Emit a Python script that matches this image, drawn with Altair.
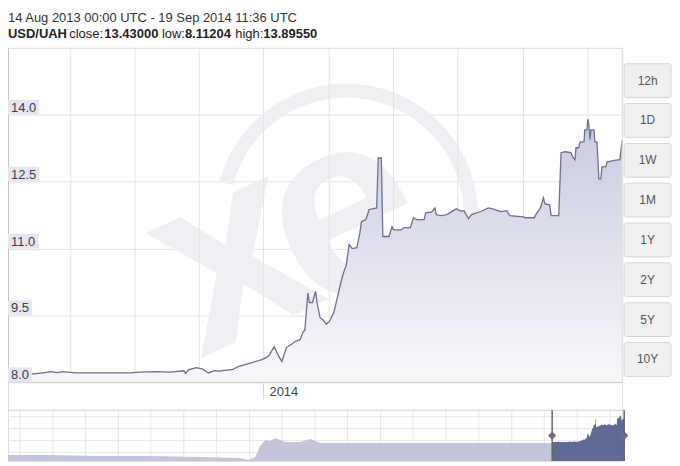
import altair as alt
import pandas as pd

# ---------------- data ----------------
dates = [
    "2013-08-14", "2013-08-22", "2013-08-31", "2013-09-07", "2013-09-11", "2013-09-15",
    "2013-09-19", "2013-09-27", "2013-10-13", "2013-11-02", "2013-11-08", "2013-11-19",
    "2013-11-28", "2013-12-07", "2013-12-08", "2013-12-10", "2013-12-15", "2013-12-19",
    "2013-12-23", "2013-12-27", "2013-12-30", "2014-01-08", "2014-01-12", "2014-01-21",
    "2014-01-27", "2014-01-30", "2014-02-01", "2014-02-04", "2014-02-07", "2014-02-09",
    "2014-02-12", "2014-02-15", "2014-02-18", "2014-02-21", "2014-02-23", "2014-02-24",
    "2014-02-26", "2014-02-27", "2014-03-01", "2014-03-03", "2014-03-04", "2014-03-06",
    "2014-03-08", "2014-03-10", "2014-03-12", "2014-03-15", "2014-03-17", "2014-03-20",
    "2014-03-22", "2014-03-23", "2014-03-25", "2014-03-27", "2014-03-30", "2014-04-01",
    "2014-04-02", "2014-04-05", "2014-04-07", "2014-04-12", "2014-04-13", "2014-04-15",
    "2014-04-16", "2014-04-20", "2014-04-22", "2014-04-23", "2014-04-28", "2014-04-30",
    "2014-05-04", "2014-05-06", "2014-05-08", "2014-05-13", "2014-05-14", "2014-05-18",
    "2014-05-20", "2014-05-21", "2014-05-24", "2014-05-28", "2014-06-01", "2014-06-03",
    "2014-06-06", "2014-06-08", "2014-06-11", "2014-06-13", "2014-06-19", "2014-06-24",
    "2014-06-27", "2014-07-02", "2014-07-06", "2014-07-08", "2014-07-17", "2014-07-18",
    "2014-07-24", "2014-07-25", "2014-07-28", "2014-07-30", "2014-07-31", "2014-08-03",
    "2014-08-04", "2014-08-09", "2014-08-10T12:00Z", "2014-08-13", "2014-08-17",
    "2014-08-18", "2014-08-19T14:00Z", "2014-08-20T07:00Z", "2014-08-22",
    "2014-08-22T22:00Z", "2014-08-25T12:00Z", "2014-08-26", "2014-08-27T10:00Z",
    "2014-08-28", "2014-08-28T17:00Z", "2014-08-29T10:00Z", "2014-08-30", "2014-09-01",
    "2014-09-01T14:00Z", "2014-09-02T22:00Z", "2014-09-03T12:00Z", "2014-09-04T05:00Z",
    "2014-09-05T12:00Z", "2014-09-06T05:00Z", "2014-09-08T19:00Z", "2014-09-09T12:00Z",
    "2014-09-13T10:00Z", "2014-09-16T14:00Z", "2014-09-17T22:00Z", "2014-09-18T12:00Z",
    "2014-09-19T11:36Z",
]
rates = [
    8.20, 8.19, 8.19, 8.22, 8.24, 8.22,
    8.24, 8.21, 8.21, 8.21, 8.23, 8.24,
    8.23, 8.26, 8.20, 8.28, 8.33, 8.30,
    8.21, 8.26, 8.25, 8.29, 8.36, 8.45,
    8.51, 8.56, 8.62, 8.80, 8.58, 8.47,
    8.78, 8.85, 8.92, 8.96, 9.14, 9.16,
    10.00, 9.79, 9.79, 10.04, 9.79, 9.45,
    9.40, 9.30, 9.36, 9.57, 9.86, 10.30,
    10.53, 10.60, 11.09, 11.00, 11.02, 11.35,
    11.60, 11.65, 11.87, 11.91, 13.03, 13.03,
    11.27, 11.27, 11.49, 11.42, 11.42, 11.47,
    11.47, 11.69, 11.65, 11.65, 11.80, 11.82,
    11.91, 11.76, 11.74, 11.76, 11.85, 11.89,
    11.84, 11.85, 11.67, 11.76, 11.83, 11.91,
    11.89, 11.83, 11.85, 11.74, 11.71, 11.69,
    11.69, 11.76, 11.91, 12.14, 12.00, 11.98,
    11.74, 11.74, 13.15, 13.17, 13.15,
    13.06, 12.99, 13.26, 13.26,
    13.39, 13.39, 13.66, 13.66,
    13.90, 13.77, 13.44, 13.66, 13.66,
    13.39, 13.39, 13.06, 12.56,
    12.56, 12.83, 12.83, 12.94,
    12.97, 12.99, 12.99, 13.15,
    13.43,
]

y_ticks = [8.0, 9.5, 11.0, 12.5, 14.0]
y_labels = ["8.0", "9.5", "11.0", "12.5", "14.0"]
grid_dates = ["2013-09-24", "2013-11-05", "2013-12-17", "2014-01-28", "2014-03-12",
              "2014-04-23", "2014-06-04", "2014-07-17", "2014-08-28"]
year_tick = ["2014-01-28"]
year_label = ["2014"]
buttons = ["12h", "1D", "1W", "1M", "1Y", "2Y", "5Y", "10Y"]

range_start = "2013-08-14"
range_end = "2014-09-19T11:36Z"

# navigator (long history) – rough reading of the mini chart
nav_dates = ["2005-04-26", "2005-12-16", "2006-09-21", "2007-06-27", "2008-04-01",
             "2008-11-10", "2008-12-24", "2009-02-02", "2009-03-01", "2009-03-29",
             "2009-04-26", "2009-05-24", "2009-07-19", "2009-10-11", "2009-12-05",
             "2010-01-30", "2012-01-01", "2013-08-13"]
nav_rates = [5.50, 5.50, 5.29, 5.29, 5.08,
             4.87, 4.46, 5.08, 7.37, 8.62,
             8.41, 9.03, 8.20, 8.20, 8.82,
             8.00, 8.00, 8.00]
nav_grid_dates = ["2005-07-01", "2006-01-01", "2006-07-01", "2007-01-01", "2007-07-01",
                  "2008-01-01", "2008-07-01", "2009-01-01", "2009-07-01", "2010-01-01",
                  "2010-07-01", "2011-01-01", "2011-07-01", "2012-01-01", "2012-07-01",
                  "2013-01-01", "2013-07-01", "2014-01-01", "2014-07-01"]
nav_grid_values = [6.0, 8.5, 11.0, 13.5]

title_line1 = "14 Aug 2013 00:00 UTC - 19 Sep 2014 11:36 UTC"
title_parts = [("USD/UAH", "bold"), ("close:", "normal"), ("13.43000", "bold"),
               ("low:", "normal"), ("8.11204", "bold"), ("high:", "normal"),
               ("13.89550", "bold")]


def ms(s):
    t = pd.Timestamp(s)
    if t.tzinfo is None:
        t = t.tz_localize("UTC")
    return int(t.timestamp() * 1000)


FONT = "Liberation Sans"
W = 617          # main plot width
H = 336          # main plot height
NAV_TOP, NAV_BOT = 364, 415   # navigator band (inside the same canvas)
NAV_W = 619
TOTAL_H = NAV_BOT

main_df = pd.DataFrame({"date": dates, "rate": rates})
main_df["base"] = 8.0
lab_df = pd.DataFrame({"v": y_ticks, "label": y_labels})
lab_df["vt"] = lab_df["v"] + 0.335
lab_df["wide"] = lab_df["label"].str.len() > 3
one = pd.DataFrame({"k": [0]})
btn_df = pd.DataFrame({"btn": buttons})
grid_df = pd.DataFrame({"date": grid_dates})
year_df = pd.DataFrame({"date": year_tick, "label": year_label})

x_scale = alt.Scale(type="utc", domain=[ms(range_start), ms(range_end)], range=[0, W])
y_scale = alt.Scale(domain=[8.0, 15.5], zero=False, nice=False, range=[H, 0])
y_axis = alt.Axis(values=y_ticks, labels=False, ticks=False, grid=True,
                  gridColor="#e4e4e4", domainColor="#c4c4c4", title=None)


def X(field="date:T"):
    return alt.X(field, scale=x_scale, axis=None)


def Y(field):
    return alt.Y(field, scale=y_scale, axis=y_axis)


# watermark (xe logo)
ring = alt.Chart(one).mark_arc(
    theta=4.97, theta2=8.2, innerRadius=118, outerRadius=132, color="#f0f0f4"
).encode(x=alt.value(340), y=alt.value(168))
wm_e = alt.Chart(one).mark_text(
    text="e", font=FONT, fontWeight="bold", fontSize=260, angle=335,
    color="#f0f0f4", align="center", baseline="alphabetic"
).encode(x=alt.value(370), y=alt.value(239))
wm_x = alt.Chart(one).mark_text(
    text="x", font=FONT, fontWeight="bold", fontSize=260, angle=335,
    color="#f0f0f4", align="center", baseline="alphabetic"
).encode(x=alt.value(258), y=alt.value(282))

vgrid = alt.Chart(grid_df).mark_rule(color="#e4e4e4").encode(
    x=X(), y=alt.value(0), y2=alt.value(H))

area = alt.Chart(main_df).mark_area(
    color=alt.Gradient(
        gradient="linear",
        stops=[alt.GradientStop(color="#c8cadf", offset=0),
               alt.GradientStop(color="#f8f8fb", offset=1)],
        x1=0, x2=0, y1=0, y2=1,
    )
).encode(x=X(), y=Y("rate:Q"), y2="base")
line = alt.Chart(main_df).mark_line(color="#6d7090", strokeWidth=1.3).encode(
    x=X(), y=Y("rate:Q"))

bottom_line = alt.Chart(one).mark_rule(color="#c8c8c8").encode(
    x=alt.value(0), x2=alt.value(W), y=alt.value(H))
right_border = alt.Chart(one).mark_rule(color="#e2e2e2").encode(
    x=alt.value(W), y=alt.value(0), y2=alt.value(H))
year_tick_rule = alt.Chart(year_df).mark_rule(color="#d8d8d8").encode(
    x=X(), y=alt.value(H), y2=alt.value(H + 17))
year_text = alt.Chart(year_df).mark_text(
    align="left", baseline="alphabetic", dx=6, font=FONT, fontSize=13, color="#444"
).encode(x=X(), y=alt.value(H + 14), text="label:N")

lab_box_wide = alt.Chart(lab_df).transform_filter("datum.wide").mark_rect(
    color="#e6e6f0").encode(x=alt.value(0), x2=alt.value(31), y=Y("v:Q"), y2="vt")
lab_box_narrow = alt.Chart(lab_df).transform_filter("!datum.wide").mark_rect(
    color="#e6e6f0").encode(x=alt.value(0), x2=alt.value(24), y=Y("v:Q"), y2="vt")
lab_text = alt.Chart(lab_df).mark_text(
    align="left", baseline="alphabetic", dy=-3, font=FONT, fontSize=13, color="#3a3a50"
).encode(x=alt.value(3), y=Y("v:Q"), text="label:N")

title1 = alt.Chart(one).mark_text(
    text=title_line1, align="left", baseline="alphabetic", font=FONT, fontSize=13,
    color="#333").encode(x=alt.value(0), y=alt.value(-26))

# positions of the pieces of the second title line (Liberation Sans metrics, 13px)
part_x = [0, 61.5, 96.8, 154.6, 177.7, 228.3, 256.5]
title2 = [
    alt.Chart(one).mark_text(text=t, align="left", baseline="alphabetic", font=FONT,
                             fontSize=13, fontWeight=w, color="#222")
    .encode(x=alt.value(px), y=alt.value(-9.5))
    for (t, w), px in zip(title_parts, part_x)
]

main = alt.layer(ring, wm_e, wm_x, vgrid, area, line, bottom_line, right_border,
                 year_tick_rule, year_text, lab_box_wide, lab_box_narrow, lab_text,
                 title1, *title2)

# ---------------- range buttons ----------------
btn_scale = alt.Scale(range=[13, 333], paddingInner=0.15, paddingOuter=0.075)
btn_rect = alt.Chart(btn_df).mark_rect(
    fill="#f0f0f0", stroke="#d6d6d6", strokeWidth=1, cornerRadius=2
).encode(y=alt.Y("btn:N", sort=buttons, scale=btn_scale, axis=None),
         x=alt.value(619), x2=alt.value(666))
btn_text = alt.Chart(btn_df).mark_text(
    font=FONT, fontSize=12, color="#555", baseline="middle", align="center"
).encode(y=alt.Y("btn:N", sort=buttons, scale=btn_scale, axis=None, bandPosition=0.5),
         x=alt.value(642.5), text="btn:N")
btns = alt.layer(btn_rect, btn_text)

# ---------------- navigator ----------------
nav_df = pd.DataFrame({"date": nav_dates + dates, "rate": nav_rates + rates})
nav_df["sel"] = [ms(d) >= ms(range_start) for d in nav_df["date"]]
nav_df["base"] = 4.25
nav_x = alt.Scale(type="utc", domain=[ms(nav_dates[0]), ms(range_end)], range=[0, NAV_W])
nav_y = alt.Scale(domain=[4.25, 14.85], zero=False, nice=False, range=[NAV_BOT, NAV_TOP])


def NX(field="date:T"):
    return alt.X(field, scale=nav_x, axis=None)


def NY(field):
    return alt.Y(field, scale=nav_y, axis=None)


nav_vgrid = alt.Chart(pd.DataFrame({"date": nav_grid_dates})).mark_rule(
    color="#e8e8e8").encode(x=NX(), y=alt.value(NAV_TOP), y2=alt.value(NAV_BOT))
nav_hgrid = alt.Chart(pd.DataFrame({"v": nav_grid_values})).mark_rule(
    color="#e8e8e8").encode(y=NY("v:Q"), x=alt.value(0), x2=alt.value(NAV_W))
nav_light = alt.Chart(nav_df).mark_area(color="#c3c5d8").encode(
    x=NX(), y=NY("rate:Q"), y2="base")
nav_dark = alt.Chart(nav_df).transform_filter("datum.sel").mark_area(
    color="#616a94").encode(x=NX(), y=NY("rate:Q"), y2="base")
sel_df = pd.DataFrame({"date": [range_start, range_end]})
nav_sel = alt.Chart(sel_df).mark_rule(color="#666", strokeWidth=1.5).encode(
    x=NX(), y=alt.value(NAV_TOP), y2=alt.value(NAV_BOT))
nav_handle = alt.Chart(sel_df).mark_point(
    shape="diamond", filled=True, size=70, color="#6b6f86", opacity=1).encode(
    x=NX(), y=alt.value((NAV_TOP + NAV_BOT) / 2))
nav_top = alt.Chart(one).mark_rule(color="#d0d0d0").encode(
    x=alt.value(0), x2=alt.value(NAV_W), y=alt.value(NAV_TOP))

nav = alt.layer(nav_vgrid, nav_hgrid, nav_light, nav_dark, nav_top, nav_sel, nav_handle)

chart = alt.layer(main, btns, nav).resolve_scale(
    x="independent", y="independent"
).properties(
    width=W, height=TOTAL_H,
    autosize=alt.AutoSizeParams(type="none"),
    padding={"left": 0, "top": 39, "right": 50, "bottom": 0},
).configure_view(stroke=None).configure(font=FONT)

chart.save("out.html", embed_options={"renderer": "svg", "actions": False})
